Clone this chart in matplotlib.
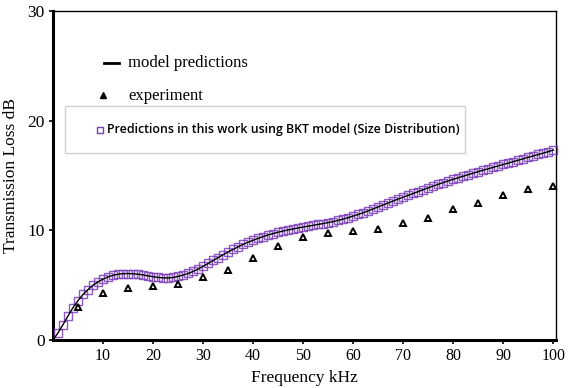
import matplotlib
matplotlib.use("Agg")
import matplotlib.pyplot as plt
from matplotlib.lines import Line2D
from matplotlib.patches import Rectangle

# Frequency grid (kHz) and predicted transmission loss (dB)
freq_model = list(range(0, 101))
tl_model = [
    0.0, 0.65, 1.4, 2.2, 2.95, 3.6, 4.15, 4.6, 5.0, 5.3,
    5.55, 5.75, 5.9, 6.0, 6.05, 6.06, 6.04, 6.0, 5.93, 5.85,
    5.77, 5.71, 5.67, 5.66, 5.7, 5.8, 5.92, 6.07, 6.25, 6.47,
    6.72, 6.98, 7.25, 7.52, 7.78, 8.03, 8.27, 8.5, 8.72, 8.92,
    9.1, 9.27, 9.43, 9.58, 9.71, 9.83, 9.94, 10.04, 10.13, 10.22,
    10.3, 10.38, 10.46, 10.54, 10.62, 10.71, 10.8, 10.91, 11.03, 11.16,
    11.3, 11.45, 11.61, 11.78, 11.96, 12.14, 12.32, 12.5, 12.68, 12.86,
    13.03, 13.2, 13.37, 13.54, 13.71, 13.88, 14.04, 14.2, 14.36, 14.51,
    14.66, 14.8, 14.94, 15.08, 15.22, 15.36, 15.49, 15.62, 15.75, 15.88,
    16.01, 16.14, 16.27, 16.4, 16.53, 16.66, 16.79, 16.92, 17.05, 17.18,
    17.32,
]

# BKT (size distribution) predictions at 1 kHz steps
freq_bkt = freq_model[1:]
tl_bkt = tl_model[1:]

# Measured transmission loss
freq_exp = [5, 10, 15, 20, 25, 30, 35, 40, 45, 50,
            55, 60, 65, 70, 75, 80, 85, 90, 95, 100]
tl_exp = [3.0, 4.25, 4.7, 4.9, 5.15, 5.75, 6.4, 7.5, 8.6, 9.35,
          9.75, 9.9, 10.1, 10.7, 11.1, 11.9, 12.5, 13.2, 13.8, 14.0]

x_ticks = [10, 20, 30, 40, 50, 60, 70, 80, 90, 100]
y_ticks = [0, 10, 20, 30]

W, H = 573, 388
fig = plt.figure(figsize=(W / 100, H / 100), dpi=100)
ax = fig.add_axes([53 / W, 1 - 340 / H, (556 - 53) / W, (340 - 11) / H])

purple = "#7A3DB8"
serif = ["Liberation Serif", "DejaVu Serif"]

ax.plot(freq_bkt, tl_bkt, linestyle="none", marker="s", markersize=5.4,
        markerfacecolor="none", markeredgecolor=purple, markeredgewidth=1.0,
        alpha=0.85, zorder=3, clip_on=False)
ax.plot(freq_model, tl_model, color="black", linewidth=1.0, zorder=4)
ax.plot(freq_exp, tl_exp, linestyle="none", marker="^", markersize=5,
        markerfacecolor="white", markeredgecolor="black",
        markeredgewidth=1.4, zorder=5, clip_on=False)

ax.set_xlim(0, 100.5)
ax.set_ylim(0, 30)
ax.set_xticks(x_ticks)
ax.set_yticks(y_ticks)
ax.set_xticklabels([str(t) for t in x_ticks], fontfamily=serif, fontsize=11.5)
ax.set_yticklabels([str(t) for t in y_ticks], fontfamily=serif, fontsize=12.5)
ax.tick_params(axis="both", direction="out", length=3, width=1.2, pad=3)

for side in ("left", "bottom"):
    ax.spines[side].set_linewidth(2.2)
for side in ("top", "right"):
    ax.spines[side].set_linewidth(1.0)

ax.set_xlabel("Frequency kHz", fontfamily=serif, fontsize=12.5, labelpad=4)
ax.set_ylabel("Transmission Loss dB", fontfamily=serif, fontsize=12.5, labelpad=6)


def fx(px):
    return px / W


def fy(py):
    return 1 - py / H


# Key for model curve and measurements
fig.add_artist(Line2D([fx(104), fx(119)], [fy(63), fy(63)], color="black",
                      linewidth=2.0))
fig.text(fx(128), fy(63), "model predictions", fontfamily=serif, fontsize=12,
         va="center", ha="left")
fig.add_artist(Line2D([fx(103)], [fy(95)], marker="^", markersize=4.5,
                      color="black", linestyle="none"))
fig.text(fx(128), fy(96), "experiment", fontfamily=serif, fontsize=12,
         va="center", ha="left")

# Boxed key for the BKT predictions
fig.add_artist(Rectangle((fx(65), fy(153)), fx(465) - fx(65), fy(106) - fy(153),
                         transform=fig.transFigure, facecolor="white",
                         edgecolor="#d0d0d0", linewidth=1.0, zorder=6))
fig.add_artist(Line2D([fx(100)], [fy(130)], marker="s", markersize=5,
                      markerfacecolor="none", markeredgecolor=purple,
                      markeredgewidth=1.0, linestyle="none", zorder=7))
fig.text(fx(107), fy(130), "Predictions in this work using BKT model (Size Distribution)",
         fontfamily="Open Sans", fontweight="semibold", fontsize=8.9,
         va="center", ha="left", zorder=7)

fig.savefig("out.png", dpi=100)
